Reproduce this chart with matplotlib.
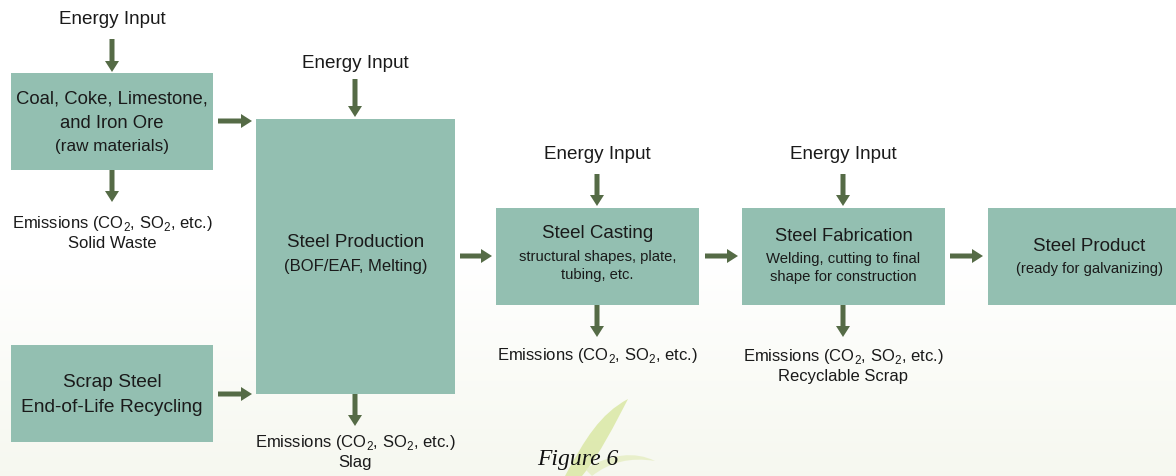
import numpy as np
import matplotlib
matplotlib.use("Agg")
import matplotlib.pyplot as plt
from matplotlib import font_manager
from matplotlib.patches import Rectangle, FancyArrow, PathPatch
from matplotlib.path import Path

names = {f.name for f in font_manager.fontManager.ttflist}
narrow = "Liberation Sans Narrow" if "Liberation Sans Narrow" in names else "Liberation Sans"
plt.rcParams['font.family'] = [narrow, 'DejaVu Sans']
plt.rcParams['mathtext.fontset'] = 'custom'
plt.rcParams['mathtext.rm'] = narrow

# labels
box_titles = ["Coal, Coke, Limestone,\nand Iron Ore", "Scrap Steel\nEnd-of-Life Recycling",
              "Steel Production", "Steel Casting", "Steel Fabrication", "Steel Product"]
box_subtitles = ["(raw materials)", "", "(BOF/EAF, Melting)",
                 "structural shapes, plate,\ntubing, etc.",
                 "Welding, cutting to final\nshape for construction",
                 "(ready for galvanizing)"]
energy_label = "Energy Input"
emis = "Emissions (CO$_2$, SO$_2$, etc.)"
outputs = [emis + "\nSolid Waste", emis + "\nSlag", emis, emis + "\nRecyclable Scrap"]
caption = "Figure 6"

# layout (pixels, y downwards)
boxes = [(11, 74, 202, 97), (11, 346, 202, 97), (256, 120, 199, 275),
         (496, 209, 203, 97), (742, 209, 203, 97), (988, 209, 202, 97)]
title_y = [111, 395, 243, 234, 237, 247]
title_fs = [13.3, 13.8, 13.5, 13.5, 13.2, 13.5]
sub_y = [147, None, 267, 266, 268, 269]
sub_fs = [12.3, 12, 12, 10.6, 10.7, 10.6]
energy_pos = [(112, 19), (355, 63), (597, 155), (843, 155)]
output_pos = [(112, 233), (355, 452), (597, 356), (843, 366)]
arrows = [((112, 40), (112, 73)), ((112, 171), (112, 203)),
          ((218, 122), (252, 122)), ((218, 395), (252, 395)),
          ((355, 80), (355, 118)), ((355, 395), (355, 427)),
          ((460, 257), (492, 257)), ((597, 175), (597, 207)),
          ((597, 306), (597, 338)), ((705, 257), (738, 257)),
          ((843, 175), (843, 207)), ((843, 306), (843, 338)),
          ((950, 257), (983, 257))]

box_color = "#93bfb1"
arrow_color = "#556b46"
text_color = "#1a1a1a"

fig = plt.figure(figsize=(11.76, 4.77), dpi=100)
ax = fig.add_axes([0, 0, 1, 1])
ax.set_xlim(0, 1176)
ax.set_ylim(477, 0)
ax.axis("off")

# background gradient
grad = np.linspace(0, 1, 200)[:, None]
top = np.array([1.0, 1.0, 1.0])
bot = np.array([0.965, 0.972, 0.94])
img = top + (bot - top) * np.clip((grad - 0.55) / 0.45, 0, 1)[..., None]
img = np.repeat(img, 2, axis=1)
ax.imshow(img, extent=(0, 1176, 477, 0), aspect="auto", zorder=0)

# leaf behind caption
leaf = Path([(565, 477), (585, 440), (600, 415), (628, 400),
             (615, 425), (600, 455), (582, 477), (565, 477)],
            [Path.MOVETO, Path.CURVE4, Path.CURVE4, Path.CURVE4,
             Path.CURVE4, Path.CURVE4, Path.CURVE4, Path.CLOSEPOLY])
ax.add_patch(PathPatch(leaf, fc="#d6e59a", ec="none", alpha=0.75, zorder=1))
leaf2 = Path([(585, 470), (610, 455), (635, 452), (655, 462),
              (630, 458), (610, 463), (592, 477), (585, 470)],
             [Path.MOVETO, Path.CURVE4, Path.CURVE4, Path.CURVE4,
              Path.CURVE4, Path.CURVE4, Path.CURVE4, Path.CLOSEPOLY])
ax.add_patch(PathPatch(leaf2, fc="#e3ecbb", ec="none", alpha=0.7, zorder=1))

for (x, y, w, h), t, ty, tfs, s, sy, sfs in zip(boxes, box_titles, title_y, title_fs,
                                                 box_subtitles, sub_y, sub_fs):
    ax.add_patch(Rectangle((x, y), w, h, fc=box_color, ec="none", zorder=2))
    cx = x + w / 2
    ax.text(cx, ty, t, ha="center", va="center", fontsize=tfs, color=text_color,
            linespacing=1.6, zorder=3)
    if s:
        ax.text(cx, sy, s, ha="center", va="center", fontsize=sfs, color=text_color,
                linespacing=1.35, zorder=3)

for (x, y) in energy_pos:
    ax.text(x, y, energy_label, ha="center", va="center", fontsize=13.6,
            color=text_color, zorder=3)

for (x, y), t in zip(output_pos, outputs):
    ax.text(x, y, t, ha="center", va="center", fontsize=12, color=text_color,
            linespacing=1.25, zorder=3)

for (x0, y0), (x1, y1) in arrows:
    ax.add_patch(FancyArrow(x0, y0, x1 - x0, y1 - y0, width=5, head_width=14,
                            head_length=11, length_includes_head=True,
                            fc=arrow_color, ec="none", zorder=3))

ax.text(578, 460, caption, ha="center", va="center", fontsize=17, style="italic",
        family=["Liberation Serif", "DejaVu Serif"], color="#111111", zorder=3)

fig.savefig("out.png", dpi=100)
